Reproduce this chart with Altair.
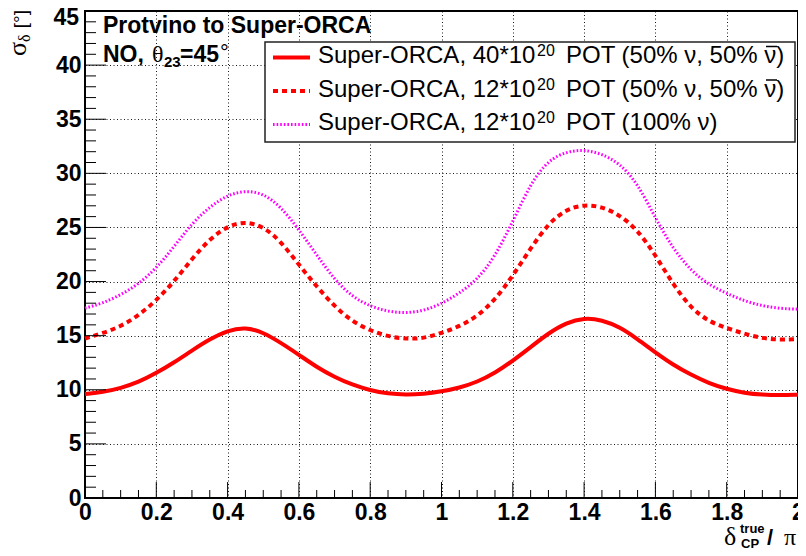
import altair as alt
import pandas as pd

# ---------------- data ----------------
x_vals = [0.0, 0.05, 0.1, 0.15, 0.2, 0.25, 0.3, 0.35, 0.4, 0.45, 0.5,
          0.55, 0.6, 0.65, 0.7, 0.75, 0.8, 0.85, 0.9, 0.95, 1.0,
          1.05, 1.1, 1.15, 1.2, 1.25, 1.3, 1.35, 1.4, 1.45, 1.5,
          1.55, 1.6, 1.65, 1.7, 1.75, 1.8, 1.85, 1.9, 1.95, 2.0]

sigma_40_5050 = [9.60, 9.78, 10.15, 10.70, 11.54, 12.52, 13.63, 14.68, 15.48, 15.80, 15.30,
                 14.33, 13.23, 12.10, 11.17, 10.46, 9.94, 9.64, 9.54, 9.62, 9.84,
                 10.18, 10.72, 11.54, 12.68, 13.94, 15.23, 16.20, 16.65, 16.46, 15.80,
                 14.68, 13.45, 12.30, 11.38, 10.60, 10.06, 9.70, 9.54, 9.50, 9.54]

sigma_12_5050 = [14.74, 15.23, 15.85, 16.86, 18.25, 20.00, 22.10, 23.94, 25.14, 25.55, 25.10,
                 23.70, 21.54, 19.54, 17.70, 16.30, 15.48, 14.92, 14.70, 14.74, 15.25,
                 15.85, 16.77, 18.30, 20.52, 23.08, 25.38, 26.68, 27.12, 26.92, 26.15,
                 24.77, 22.46, 19.70, 17.54, 16.30, 15.70, 15.17, 14.75, 14.62, 14.68]

sigma_12_100nu = [17.54, 18.00, 18.77, 19.75, 21.23, 23.23, 25.38, 26.92, 28.00, 28.42, 28.15,
                  26.90, 24.80, 22.46, 20.15, 18.60, 17.70, 17.23, 17.08, 17.30, 17.94,
                  18.92, 20.15, 22.30, 25.54, 29.08, 31.23, 32.00, 32.20, 31.80, 30.92,
                  29.08, 25.85, 23.00, 21.00, 19.70, 18.90, 18.20, 17.75, 17.50, 17.45]

series_keys = ["s40_5050", "s12_5050", "s12_100"]

x_tick_values = [0, 0.2, 0.4, 0.6, 0.8, 1, 1.2, 1.4, 1.6, 1.8, 2]
y_tick_values = [0, 5, 10, 15, 20, 25, 30, 35, 40, 45]
x_minor_values = [0.05, 0.1, 0.15, 0.25, 0.3, 0.35, 0.45, 0.5, 0.55, 0.65, 0.7, 0.75,
                  0.85, 0.9, 0.95, 1.05, 1.1, 1.15, 1.25, 1.3, 1.35, 1.45, 1.5, 1.55,
                  1.65, 1.7, 1.75, 1.85, 1.9, 1.95]
y_minor_values = [v for v in range(46) if v % 5 != 0]

legend_labels_a = ["Super-ORCA, 40*10", "Super-ORCA, 12*10", "Super-ORCA, 12*10"]
legend_labels_sup = ["20", "20", "20"]
legend_labels_c = ["POT (50% \u03bd, 50% \u03bd)", "POT (50% \u03bd, 50% \u03bd)", "POT (100% \u03bd)"]
legend_antinu = [True, True, False]

# ---------------- layout ----------------
W, H = 713, 487
OX, OY = 85, 11          # page position of the plot origin
FONT = "Liberation Sans"
SERIF = "Liberation Serif"

df = pd.DataFrame({
    "x": x_vals * 3,
    "y": sigma_40_5050 + sigma_12_5050 + sigma_12_100nu,
    "series": [series_keys[0]] * len(x_vals) + [series_keys[1]] * len(x_vals) + [series_keys[2]] * len(x_vals),
})

xs = alt.Scale(domain=[0, 2], nice=False, zero=False)
ys = alt.Scale(domain=[0, 45], nice=False, zero=False)

axis_common = dict(grid=True, gridColor="black", gridDash=[1, 2.5], gridWidth=1, gridOpacity=0.9,
                   ticks=False, domain=False, labelFont=FONT, labelFontWeight="bold",
                   labelFontSize=23, labelColor="black", title=None,
                   labelOverlap=False, labelFlush=False)

x_enc = alt.X("x:Q", scale=xs, axis=alt.Axis(values=x_tick_values, format="~g", labelPadding=3, **axis_common))
y_enc = alt.Y("y:Q", scale=ys, axis=alt.Axis(values=y_tick_values, format="~g", labelPadding=4,
                                             labelExpr="datum.value == 45 ? '' : datum.label",
                                             **axis_common))

base = alt.Chart(df)
line_solid = base.transform_filter(alt.datum.series == series_keys[0]).mark_line(
    color="#ff0000", strokeWidth=4, interpolate="basis").encode(x=x_enc, y=y_enc)
line_dash = base.transform_filter(alt.datum.series == series_keys[1]).mark_line(
    color="#ff0000", strokeWidth=4, strokeDash=[5, 4], interpolate="basis").encode(x=x_enc, y=y_enc)
line_dot = base.transform_filter(alt.datum.series == series_keys[2]).mark_line(
    color="#ff00ff", strokeWidth=3, strokeDash=[1.6, 2], interpolate="basis").encode(x=x_enc, y=y_enc)

# inside ticks
ytick_major = alt.Chart(pd.DataFrame({"y": y_tick_values})).mark_rule(color="black", strokeWidth=1).encode(
    y=y_enc, x=alt.value(0), x2=alt.value(21))
ytick_minor = alt.Chart(pd.DataFrame({"y": y_minor_values})).mark_rule(color="black", strokeWidth=1).encode(
    y=y_enc, x=alt.value(0), x2=alt.value(11))
xtick_major = alt.Chart(pd.DataFrame({"x": x_tick_values})).mark_rule(color="black", strokeWidth=1).encode(
    x=x_enc, y=alt.value(H), y2=alt.value(H - 16))
xtick_minor = alt.Chart(pd.DataFrame({"x": x_minor_values})).mark_rule(color="black", strokeWidth=1).encode(
    x=x_enc, y=alt.value(H), y2=alt.value(H - 8))

one = pd.DataFrame({"a": [0]})


def txt(s, px, py, size, bold=False, font=FONT, align="left", angle=None, baseline="alphabetic"):
    kw = dict(font=font, fontSize=size, fontWeight="bold" if bold else "normal",
              align=align, baseline=baseline, color="black")
    if angle is not None:
        kw["angle"] = angle
    return alt.Chart(pd.DataFrame({"t": [s]})).mark_text(**kw).encode(
        x=alt.value(px - OX), y=alt.value(py - OY), text="t:N")


def hrule(x1, x2, py, color, width, dash=None):
    kw = dict(color=color, strokeWidth=width)
    if dash:
        kw["strokeDash"] = dash
    return alt.Chart(one).mark_rule(**kw).encode(
        x=alt.value(x1 - OX), x2=alt.value(x2 - OX), y=alt.value(py - OY))


# legend
legend_box = alt.Chart(one).mark_rect(fill="white", stroke="#222222", strokeWidth=1.5).encode(
    x=alt.value(265 - OX), x2=alt.value(795 - OX), y=alt.value(42 - OY), y2=alt.value(142 - OY))

row_base = [63, 96.5, 130]
row_line = [57.5, 91, 124.5]

legend_layers = [legend_box,
                 hrule(273, 310, row_line[0], "#ff0000", 4),
                 hrule(273, 310, row_line[1], "#ff0000", 4, [5, 4]),
                 hrule(273, 310, row_line[2], "#ff00ff", 3, [1.6, 2])]
for i in range(3):
    legend_layers.append(txt(legend_labels_a[i], 318, row_base[i], 24))
    legend_layers.append(txt(legend_labels_sup[i], 537, row_base[i] - 7, 16))
    legend_layers.append(txt(legend_labels_c[i], 566, row_base[i], 24))
    if legend_antinu[i]:
        legend_layers.append(hrule(766, 777, row_base[i] - 16.5, "black", 1.5))

# titles / annotations
annot = [
    txt("45", 79, 25, 23, bold=True, align="right"),
    txt("Protvino to Super-ORCA", 103, 33, 23, bold=True),
    txt("NO,", 103, 62, 23, bold=True),
    txt("\u03b8", 152, 62, 24, font=SERIF),
    txt("23", 164, 67, 15, bold=True),
    txt("=45", 180, 62, 23, bold=True),
    txt("\u00b0", 220, 60, 22),
    # y axis title (rotated)
    txt("\u03c3", 26, 56, 26, font=SERIF, angle=270),
    txt("\u03b4", 30, 42, 16, font=SERIF, angle=270),
    txt("[\u00b0]", 27, 10, 19, angle=270, align="right"),
    # x axis title
    txt("\u03b4", 724, 545, 26, font=SERIF),
    txt("true", 740, 533, 13, bold=True),
    txt("CP", 741, 547.5, 13, bold=True),
    txt("/", 767, 545, 22, bold=True),
    txt("\u03c0", 784, 545, 24, font=SERIF),
]

chart = alt.layer(
    line_dot, line_dash, line_solid,
    ytick_major, ytick_minor, xtick_major, xtick_minor,
    *legend_layers, *annot
).properties(
    width=W, height=H,
    padding={"left": 77, "top": 3, "right": 0, "bottom": 50},
    autosize=alt.AutoSizeParams(type="none"),
    background="white",
).configure_view(stroke="black", strokeWidth=2)

chart.save("out.html", embed_options={"renderer": "svg", "actions": False})
